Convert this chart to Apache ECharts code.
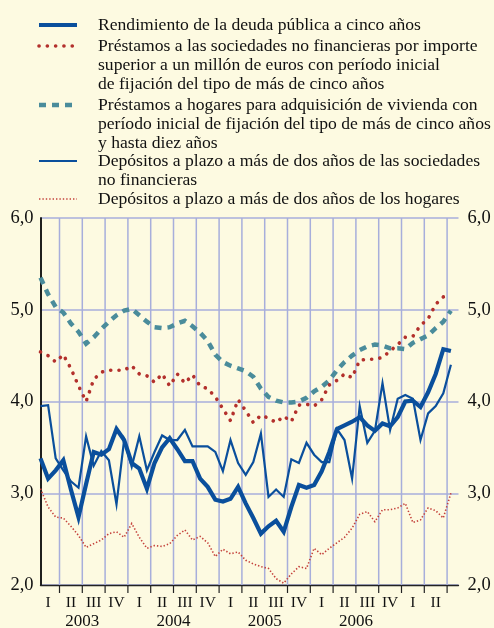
<!DOCTYPE html>
<html>
<head>
<meta charset="utf-8">
<script src="https://cdn.jsdelivr.net/npm/echarts@6/dist/echarts.min.js"></script>
<style>
html, body { margin: 0; padding: 0; background: #fdfae1; }
#chart { width: 494px; height: 628px; }
</style>
</head>
<body>
<div id="chart"></div>
<script>
// meses: enero 2003 - julio 2007
var startYear = 2003;
var nMonths = 55;
var years = ['2003', '2004', '2005', '2006'];
var quarterLabels = ['I', 'II', 'III', 'IV'];
var yTicks = [2, 3, 4, 5, 6];

var deudaPublica = [3.38,3.16,3.25,3.36,3.04,2.74,3.10,3.45,3.42,3.48,
	3.70,3.58,3.33,3.27,3.05,3.33,3.50,3.60,3.48,3.35,
	3.35,3.16,3.07,2.93,2.91,2.94,3.07,2.89,2.73,2.56,
	2.64,2.70,2.58,2.85,3.09,3.06,3.09,3.24,3.45,3.70,
	3.74,3.78,3.83,3.74,3.68,3.76,3.73,3.83,4.00,4.01,
	3.94,4.10,4.30,4.57,4.55];
var prestSociedades = [4.54,4.50,4.43,4.51,4.36,4.17,4.00,4.24,4.32,4.34,
	4.34,4.34,4.39,4.30,4.28,4.21,4.30,4.17,4.30,4.20,
	4.29,4.17,4.14,4.05,3.92,3.79,4.02,3.90,3.77,3.85,
	3.82,3.77,3.84,3.78,3.96,3.97,3.95,4.02,4.18,4.23,
	4.30,4.26,4.45,4.46,4.46,4.48,4.55,4.62,4.70,4.71,
	4.83,4.90,5.06,5.14,5.17];
var prestHogares = [5.35,5.17,5.03,4.97,4.85,4.76,4.63,4.70,4.79,4.87,
	4.94,4.99,5.01,4.94,4.87,4.81,4.80,4.81,4.85,4.88,
	4.82,4.75,4.66,4.51,4.43,4.39,4.36,4.33,4.27,4.14,
	4.05,4.01,3.99,3.99,4.00,4.04,4.11,4.16,4.23,4.34,
	4.43,4.50,4.56,4.60,4.62,4.61,4.58,4.58,4.57,4.64,
	4.68,4.72,4.80,4.87,4.99];
var depSociedades = [3.95,3.96,3.38,3.25,3.13,3.06,3.62,3.30,3.46,3.36,
	2.88,3.58,3.29,3.62,3.25,3.45,3.63,3.58,3.58,3.69,
	3.51,3.51,3.51,3.45,3.24,3.58,3.33,3.20,3.34,3.65,
	2.96,3.04,2.96,3.37,3.33,3.55,3.42,3.34,3.34,3.70,
	3.58,3.16,3.95,3.55,3.68,4.20,3.69,4.03,4.07,4.03,
	3.58,3.87,3.95,4.09,4.40];
var depHogares = [3.05,2.85,2.74,2.73,2.64,2.54,2.41,2.45,2.49,2.56,
	2.58,2.52,2.67,2.52,2.40,2.43,2.42,2.45,2.54,2.60,
	2.49,2.53,2.46,2.31,2.39,2.34,2.36,2.27,2.23,2.20,
	2.18,2.07,2.02,2.12,2.20,2.18,2.40,2.33,2.40,2.46,
	2.52,2.62,2.77,2.80,2.69,2.82,2.82,2.84,2.89,2.68,
	2.71,2.84,2.81,2.73,3.00];

var legendTexts = [
	'Rendimiento de la deuda pública a cinco años',
	'Préstamos a las sociedades no financieras por importe\nsuperior a un millón de euros con período inicial\nde fijación del tipo de más de cinco años',
	'Préstamos a hogares para adquisición de vivienda con\nperíodo inicial de fijación del tipo de más de cinco años\ny hasta diez años',
	'Depósitos a plazo a más de dos años de las sociedades\nno financieras',
	'Depósitos a plazo a más de dos años de los hogares'
];
var seriesData = [deudaPublica, prestSociedades, prestHogares, depSociedades, depHogares];

var BLUE = '#0a4f9c', RED = '#b3302c', TEAL = '#4a8c9b';
var styles = [
	{ color: BLUE, width: 4.2, dash: null, cap: 'butt' },
	{ color: RED, width: 3.6, dash: [0.1, 8.2], cap: 'round' },
	{ color: TEAL, width: 4.5, dash: [7, 6], cap: 'butt' },
	{ color: BLUE, width: 2.2, dash: null, cap: 'butt' },
	{ color: '#c4413b', width: 1.6, dash: [1.4, 2], cap: 'butt' }
];
var legendY = [25, 46, 105, 161, 199];

var months = [];
for (var i = 0; i < nMonths; i++) {
	months.push((startYear + Math.floor(i / 12)) + '-' + (i % 12 + 1));
}
// limites de trimestre
var quarterBounds = [];
for (var i = 1; i < months.length; i++) {
	if (i % 3 === 0) quarterBounds.push(i - 0.5);
}

var myChart = echarts.init(document.getElementById('chart'));
var serif = '"Liberation Serif", "Times New Roman", serif';

var series = [{
	type: 'custom',
	silent: true,
	z: 1,
	clip: false,
	data: quarterBounds.map(function (v) { return [v, yTicks[0]]; }),
	encode: { x: 0, y: 1 },
	renderItem: function (params, api) {
		var top = api.coord([api.value(0), yTicks[yTicks.length - 1]]);
		var bot = api.coord([api.value(0), yTicks[0]]);
		return {
			type: 'group',
			children: [
				{ type: 'line', shape: { x1: top[0], y1: top[1], x2: bot[0], y2: bot[1] },
					style: { stroke: '#a7aedb', lineWidth: 1.5 } },
				{ type: 'line', shape: { x1: bot[0], y1: bot[1], x2: bot[0], y2: bot[1] + 8 },
					style: { stroke: '#222', lineWidth: 1.2 } }
			]
		};
	}
}];
var zs = [6, 4, 3, 5, 2];
for (var s = 0; s < seriesData.length; s++) {
	var st = styles[s];
	series.push({
		name: legendTexts[s].replace(/\n/g, ' '),
		type: 'line',
		showSymbol: false,
		silent: true,
		z: zs[s],
		data: seriesData[s].map(function (v, i) { return [i, v]; }),
		lineStyle: { color: st.color, width: st.width, type: st.dash || 'solid', cap: st.cap, join: 'miter' }
	});
}

var graphics = [];
for (var s = 0; s < legendTexts.length; s++) {
	var st = styles[s];
	graphics.push({
		type: 'line',
		shape: { x1: 39, y1: legendY[s], x2: 77, y2: legendY[s] },
		style: { stroke: st.color, lineWidth: st.width, lineDash: st.dash, lineCap: st.cap }
	});
	graphics.push({
		type: 'text',
		x: 98, y: legendY[s] - 9.6,
		style: { text: legendTexts[s], font: '17.6px ' + serif, lineHeight: 19.2, fill: '#111', verticalAlign: 'top' }
	});
}

var option = {
	backgroundColor: '#fdfae1',
	animation: false,
	grid: { left: 40.5, right: 35.5, top: 218, bottom: 43, containLabel: false, outerBoundsMode: 'none' },
	graphic: graphics,
	xAxis: [{
		type: 'value',
		min: 0, max: months.length, interval: 1,
		axisLine: { show: true, onZero: false, lineStyle: { color: '#222', width: 1.3 } },
		axisTick: { show: false },
		splitLine: { show: false },
		axisLabel: {
			margin: 10, color: '#111', fontFamily: serif, fontSize: 15.5,
			showMinLabel: true, showMaxLabel: true,
			formatter: function (v) {
				if (v % 3 === 1 && v + 1 < months.length) return quarterLabels[((v - 1) / 3) % 4];
				return '';
			}
		}
	}, {
		type: 'value',
		position: 'bottom',
		offset: 18,
		min: 0, max: months.length, interval: 0.5,
		axisLine: { show: false },
		axisTick: { show: false },
		splitLine: { show: false },
		axisLabel: {
			margin: 10, color: '#111', fontFamily: serif, fontSize: 17,
			formatter: function (v) {
				var k = (v - 5.5) / 12;
				if (k >= 0 && k === Math.floor(k) && years[k]) return years[k];
				return '';
			}
		}
	}],
	yAxis: [{
		type: 'value', position: 'left',
		min: yTicks[0], max: yTicks[yTicks.length - 1], interval: 1,
		axisLine: { show: true, lineStyle: { color: '#111', width: 1.5 } },
		axisTick: { show: false },
		splitLine: { show: true, lineStyle: { color: '#a7aedb', width: 1.5 } },
		axisLabel: { margin: 7, color: '#111', fontFamily: serif, fontSize: 18.5,
			formatter: function (v) { return v.toFixed(1).replace('.', ','); } }
	}, {
		type: 'value', position: 'right',
		min: yTicks[0], max: yTicks[yTicks.length - 1], interval: 1,
		axisLine: { show: true, lineStyle: { color: '#111', width: 1.5 } },
		axisTick: { show: false },
		splitLine: { show: false },
		axisLabel: { margin: 9, color: '#111', fontFamily: serif, fontSize: 18.5,
			formatter: function (v) { return v.toFixed(1).replace('.', ','); } }
	}],
	series: series
};
myChart.setOption(option);
</script>
</body>
</html>
